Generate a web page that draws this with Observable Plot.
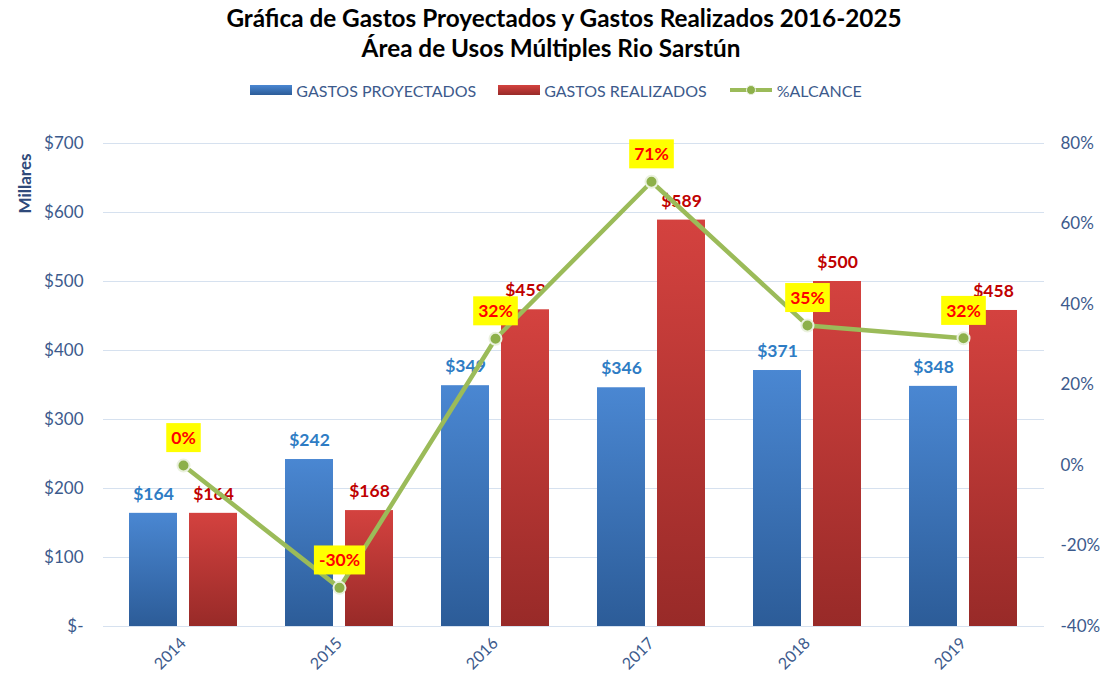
<!DOCTYPE html>
<html>
<head>
<meta charset="utf-8">
<script src="https://cdn.jsdelivr.net/npm/d3@7"></script>
<script src="https://cdn.jsdelivr.net/npm/@observablehq/plot@0.6"></script>
<style>
  html, body { margin: 0; padding: 0; background: #fff; }
  body { width: 1102px; height: 677px; overflow: hidden; font-family: Lato, "Open Sans", sans-serif; }
  #title { height: 68px; padding-top: 3px; box-sizing: border-box; text-align: center; font-weight: bold; font-size: 24.3px; line-height: 30px; color: #000; }
  #title .l1 { position: relative; left: 13px; }
  #legend { height: 44px; display: flex; justify-content: center; align-items: center; gap: 0; font-size: 16px; color: #3C5A8C; padding-left: 10px; box-sizing: border-box; }
  #legend .item { display: flex; align-items: center; margin: 0 11px; }
  #legend svg { margin-right: 4px; }
</style>
</head>
<body>
<div id="title"><span class="l1">Gráfica de Gastos Proyectados y Gastos Realizados 2016-2025</span><br>Área de Usos Múltiples Rio Sarstún</div>
<div id="legend"></div>
<div id="chart"></div>
<script>
// ---- data ----
const years = ["2014", "2015", "2016", "2017", "2018", "2019"];
const projected = [164, 242, 349, 346, 371, 348];
const realized = [164, 168, 459, 589, 500, 458];
const alcance = [0, -0.304, 0.315, 0.705, 0.348, 0.316];
const leftTicks = [0, 100, 200, 300, 400, 500, 600, 700];
const rightTicks = [-0.4, -0.2, 0, 0.2, 0.4, 0.6, 0.8];
const seriesNames = ["GASTOS PROYECTADOS", "GASTOS REALIZADOS", "%ALCANCE"];
const colors = { blueTop: "#4A87D2", blueBot: "#2C5C98", redTop: "#D4423F", redBot: "#982A28", green: "#9BBB59", blueLabel: "#2E7CC4", redLabel: "#C00000", axis: "#3C5A8C" };

const table = years.map((y, i) => ({ year: y, projected: projected[i], realized: realized[i], pct: alcance[i] }));

// right axis (-40%..80%) mapped onto left scale (0..700)
const yMax = 700, pMin = -0.4, pMax = 0.8;
const toLeft = p => (p - pMin) / (pMax - pMin) * yMax;
const fromLeft = v => v / yMax * (pMax - pMin) + pMin;

// ---- legend ----
const legend = document.getElementById("legend");
function swatchSVG(kind) {
  if (kind === 2) {
    return `<svg width="44" height="12"><line x1="1" y1="6" x2="43" y2="6" stroke="${colors.green}" stroke-width="4"/><circle cx="22" cy="6" r="4.5" fill="#8DB04A" stroke="#E8F0DC" stroke-width="1"/></svg>`;
  }
  const [a, b] = kind === 0 ? [colors.blueTop, colors.blueBot] : [colors.redTop, colors.redBot];
  return `<svg width="42" height="10"><defs><linearGradient id="lg${kind}" x1="0" y1="0" x2="0" y2="1"><stop offset="0" stop-color="${a}"/><stop offset="1" stop-color="${b}"/></linearGradient></defs><rect x="0" y="0" width="42" height="10" fill="url(#lg${kind})"/></svg>`;
}
seriesNames.forEach((n, i) => {
  const d = document.createElement("div");
  d.className = "item";
  d.innerHTML = swatchSVG(i) + `<span>${n}</span>`;
  legend.appendChild(d);
});

// ---- gradients as a mark ----
function gradientDefs() {
  const ns = "http://www.w3.org/2000/svg";
  const defs = document.createElementNS(ns, "defs");
  [["gBlue", colors.blueTop, colors.blueBot], ["gRed", colors.redTop, colors.redBot]].forEach(([id, a, b]) => {
    const lg = document.createElementNS(ns, "linearGradient");
    lg.setAttribute("id", id);
    lg.setAttribute("x1", "0"); lg.setAttribute("y1", "0"); lg.setAttribute("x2", "0"); lg.setAttribute("y2", "1");
    [[0, a], [1, b]].forEach(([o, c]) => {
      const s = document.createElementNS(ns, "stop");
      s.setAttribute("offset", o); s.setAttribute("stop-color", c);
      lg.appendChild(s);
    });
    defs.appendChild(lg);
  });
  return defs;
}

const font = "Lato, 'Open Sans', sans-serif";

const chart = Plot.plot({
  width: 1102,
  height: 565,
  marginTop: 31,
  marginBottom: 51,
  marginLeft: 103,
  marginRight: 58,
  style: { fontFamily: font, background: "#fff", overflow: "visible" },
  x: { domain: years, paddingInner: 0.69, paddingOuter: 0.345, label: null },
  y: { domain: [0, yMax], label: null },
  marks: [
    gradientDefs,
    Plot.gridY(leftTicks, { stroke: "#D6E1EF", strokeOpacity: 1, strokeWidth: 1.2 }),
    Plot.axisY(leftTicks, { anchor: "left", tickSize: 0, tickPadding: 20, fontSize: 17, fill: colors.axis, tickFormat: d => d === 0 ? "$-" : "$" + d, label: null }),
    Plot.axisY(rightTicks.map(toLeft), { anchor: "right", tickSize: 0, tickPadding: 16, fontSize: 17, fill: colors.axis, textAnchor: "start", tickFormat: v => Math.round(fromLeft(v) * 100) + "%", label: null }),
    Plot.axisX({ tickSize: 0, tickRotate: -45, tickPadding: 14, fontSize: 16, fill: colors.axis, label: null }),
    Plot.text(["Millares"], { frameAnchor: "top-left", dx: -85, dy: 40, rotate: -90, textAnchor: "middle", fontWeight: "bold", fontSize: 17, fill: "#2F4A7A" }),
    Plot.barY(table, { x: "year", y: "projected", fill: "url(#gBlue)", dx: -30 }),
    Plot.barY(table, { x: "year", y: "realized", fill: "url(#gRed)", dx: 30 }),
    Plot.text(table, { x: "year", y: "projected", text: d => "$" + d.projected, dx: -30, dy: -19, fill: colors.blueLabel, fontWeight: "bold", fontSize: 17.5 }),
    Plot.text(table, { x: "year", y: "realized", text: d => "$" + d.realized, dx: 30, dy: -19, fill: colors.redLabel, fontWeight: "bold", fontSize: 17.5 }),
    Plot.line(table, { x: "year", y: d => toLeft(d.pct), stroke: colors.green, strokeWidth: 4.5 }),
    Plot.dot(table, { x: "year", y: d => toLeft(d.pct), r: 6, fill: "#8DB04A", stroke: "#EAF1DE", strokeWidth: 2 }),
    Plot.text(table, {
      x: "year", y: d => toLeft(d.pct), text: d => Math.round(d.pct * 100) + "%",
      dy: -27, fill: "#FF0000", fontWeight: "bold", fontSize: 17.5,
      render(index, scales, values, dimensions, context, next) {
        const g = next(index, scales, values, dimensions, context);
        g.setAttribute("class", "pct-labels");
        return g;
      }
    })
  ]
});
document.getElementById("chart").appendChild(chart);

// yellow boxes behind percent labels, sized from the rendered text
const ns = "http://www.w3.org/2000/svg";
let pctGroup = chart.querySelector("g.pct-labels");
if (!pctGroup) pctGroup = chart.lastElementChild;
pctGroup.querySelectorAll("text").forEach(t => {
  const b = t.getBBox();
  const r = document.createElementNS(ns, "rect");
  r.setAttribute("x", b.x - 5);
  r.setAttribute("y", b.y - 4);
  r.setAttribute("width", b.width + 10);
  r.setAttribute("height", b.height + 8);
  r.setAttribute("fill", "#FFFF00");
  if (t.getAttribute("transform")) r.setAttribute("transform", t.getAttribute("transform"));
  t.parentNode.insertBefore(r, t);
});
</script>
</body>
</html>
